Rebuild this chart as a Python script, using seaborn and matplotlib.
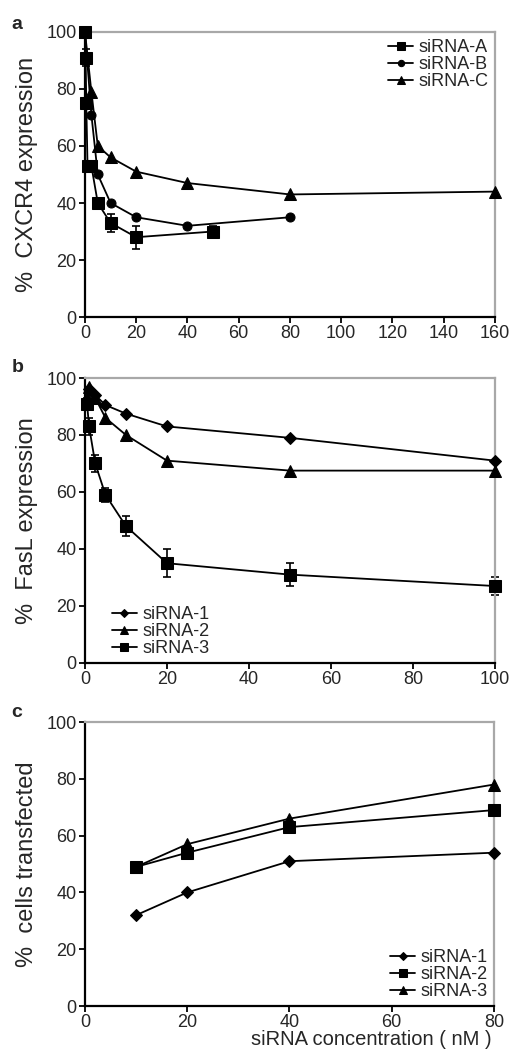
import numpy as np
import pandas as pd
import matplotlib
matplotlib.use("Agg")
import matplotlib.pyplot as plt
import seaborn as sns

# panel a - CXCR4 expression vs siRNA concentration
a_x_A = [0, 0.25, 0.5, 1, 2.5, 5, 10, 20, 50]
a_y_A = [100, 91, 75, 53, 53, 40, 33, 28, 30]
a_e_A = [0, 3, 0, 0, 0, 1, 3, 4, 2]
a_x_B = [0, 2.5, 5, 10, 20, 40, 80]
a_y_B = [100, 71, 50, 40, 35, 32, 35]
a_x_C = [0, 2.5, 5, 10, 20, 40, 80, 160]
a_y_C = [100, 79, 60, 56, 51, 47, 43, 44]

# panel b - FasL expression
b_x = [0.5, 1, 2.5, 5, 10, 20, 50, 100]
b_y_1 = [92, 96, 94, 90.5, 87.5, 83, 79, 71]
b_y_2 = [93, 97, 93, 86, 80, 71, 67.5, 67.5]
b_y_3 = [91, 83, 70, 59, 48, 35, 31, 27]
b_e_3 = [2, 3, 3, 2.5, 3.5, 5, 4, 3]

# panel c - transfection efficiency
c_x = [10, 20, 40, 80]
c_y_1 = [32, 40, 51, 54]
c_y_2 = [49, 54, 63, 69]
c_y_3 = [49, 57, 66, 78]

sns.set_style("ticks")
plt.rcParams["font.family"] = ["Liberation Sans", "DejaVu Sans"]

fig = plt.figure(figsize=(5.11, 10.55), dpi=100)
ax_a = fig.add_axes([0.1663, 0.6995, 0.8024, 0.2702])
ax_b = fig.add_axes([0.1663, 0.3716, 0.8024, 0.2701])
ax_c = fig.add_axes([0.1663, 0.0464, 0.8004, 0.2692])


def draw(ax, xs, ys, marker, ms, label):
    df = pd.DataFrame({"conc": xs, "val": ys})
    sns.lineplot(data=df, x="conc", y="val", ax=ax, color="black", lw=1.3,
                 marker=marker, markersize=ms, markeredgecolor="black",
                 estimator=None, sort=False, label=label, clip_on=False,
                 zorder=3)


def errs(ax, xs, ys, es):
    ax.errorbar(xs, ys, yerr=es, fmt="none", ecolor="black", elinewidth=1.2,
                capsize=3, capthick=1.2, clip_on=False, zorder=2)


def style(ax, xmax, ylabel):
    ax.set_xlim(0, xmax)
    ax.set_ylim(0, 100)
    ax.set_xticks(np.arange(0, xmax + 1, 20))
    ax.set_yticks(np.arange(0, 101, 20))
    ax.tick_params(labelsize=13, length=4, width=1.3, color="black", pad=2)
    for s in ["left", "bottom"]:
        ax.spines[s].set_color("black")
        ax.spines[s].set_linewidth(1.6)
    for s in ["top", "right"]:
        ax.spines[s].set_color("#a8a8a8")
        ax.spines[s].set_linewidth(1.6)
    ax.set_ylabel(ylabel, fontsize=17, labelpad=6)
    ax.set_xlabel("")


errs(ax_a, a_x_A, a_y_A, a_e_A)
draw(ax_a, a_x_A, a_y_A, "s", 9, "siRNA-A")
draw(ax_a, a_x_B, a_y_B, "o", 6.5, "siRNA-B")
draw(ax_a, a_x_C, a_y_C, "^", 8, "siRNA-C")
style(ax_a, 160, "%  CXCR4 expression")

draw(ax_b, b_x, b_y_1, "D", 6, "siRNA-1")
draw(ax_b, b_x, b_y_2, "^", 8, "siRNA-2")
errs(ax_b, b_x, b_y_3, b_e_3)
draw(ax_b, b_x, b_y_3, "s", 9, "siRNA-3")
style(ax_b, 100, "%  FasL expression")

draw(ax_c, c_x, c_y_1, "D", 6, "siRNA-1")
draw(ax_c, c_x, c_y_2, "s", 8.5, "siRNA-2")
draw(ax_c, c_x, c_y_3, "^", 8, "siRNA-3")
style(ax_c, 80, "%  cells transfected")
ax_c.set_xlabel("siRNA concentration ( nM )", fontsize=14.5)
ax_c.xaxis.set_label_coords(0.70, -0.085)

leg_kw = dict(frameon=False, fontsize=13, handlelength=1.4, handletextpad=0.3,
              labelspacing=0.0, borderpad=0.0, borderaxespad=0.0, markerscale=0.7)
ax_a.legend(loc="upper right", bbox_to_anchor=(0.985, 0.975), **leg_kw)
ax_b.legend(loc="lower left", bbox_to_anchor=(0.065, 0.02), **leg_kw)
ax_c.legend(loc="lower right", bbox_to_anchor=(0.985, 0.02), **leg_kw)

for ax, lab, y in [(ax_a, "a", 0.985), (ax_b, "b", 0.66), (ax_c, "c", 0.333)]:
    fig.text(0.022, y, lab, fontsize=14, fontweight="bold", va="top")

fig.savefig("out.png", dpi=100)
